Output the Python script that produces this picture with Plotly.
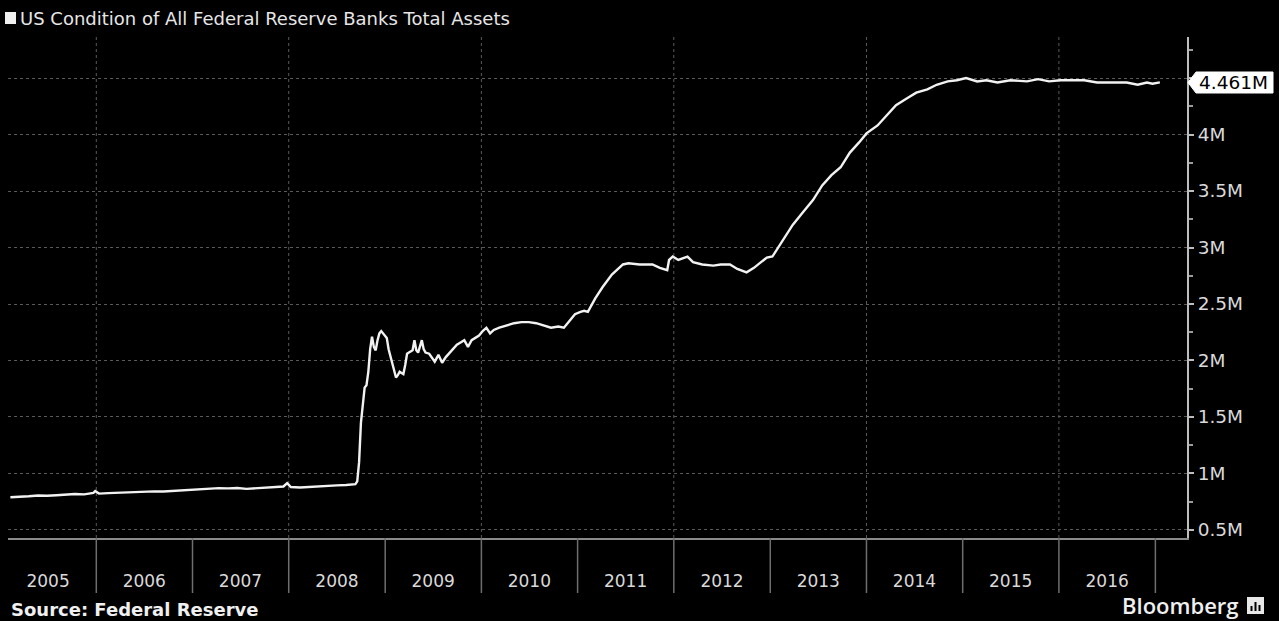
import plotly.graph_objects as go

# ---------------- data (values in millions, "M") ----------------
dates = [
    "2005-02-09", "2005-03-16", "2005-04-20", "2005-05-25", "2005-06-29", "2005-08-03",
    "2005-09-07", "2005-10-12", "2005-11-16", "2005-12-21", "2005-12-28", "2006-01-11",
    "2006-02-15", "2006-03-22", "2006-04-26", "2006-05-31", "2006-07-05", "2006-08-09",
    "2006-09-13", "2006-10-18", "2006-11-22", "2006-12-27", "2007-01-31", "2007-03-07",
    "2007-04-11", "2007-05-16", "2007-06-20", "2007-07-25", "2007-08-29", "2007-10-03",
    "2007-11-07", "2007-12-12", "2007-12-26", "2008-01-09", "2008-02-13", "2008-03-19",
    "2008-04-23", "2008-05-28", "2008-07-02", "2008-08-06", "2008-09-10", "2008-09-17",
    "2008-09-24", "2008-10-01", "2008-10-08", "2008-10-15", "2008-10-22", "2008-10-29",
    "2008-11-05", "2008-11-12", "2008-11-19", "2008-11-26", "2008-12-03", "2008-12-10",
    "2008-12-17", "2008-12-24", "2008-12-31", "2009-01-07", "2009-01-14", "2009-01-21",
    "2009-01-28", "2009-02-04", "2009-02-11", "2009-02-18", "2009-02-25", "2009-03-04",
    "2009-03-11", "2009-03-18", "2009-03-25", "2009-04-01", "2009-04-08", "2009-04-15",
    "2009-04-22", "2009-04-29", "2009-05-06", "2009-05-13", "2009-05-20", "2009-05-27",
    "2009-06-03", "2009-06-17", "2009-06-24", "2009-07-08", "2009-07-22", "2009-08-05",
    "2009-08-19", "2009-09-02", "2009-09-16", "2009-09-30", "2009-10-14", "2009-10-28",
    "2009-11-11", "2009-11-25", "2009-12-09", "2009-12-23", "2010-01-06", "2010-01-20",
    "2010-02-03", "2010-02-17", "2010-03-10", "2010-04-07", "2010-05-05", "2010-06-02",
    "2010-06-30", "2010-07-28", "2010-08-25", "2010-09-22", "2010-10-20", "2010-11-10",
    "2010-12-01", "2010-12-22", "2011-01-12", "2011-01-26", "2011-02-09", "2011-03-09",
    "2011-04-06", "2011-05-11", "2011-06-22", "2011-07-13", "2011-08-24", "2011-10-12",
    "2011-11-09", "2011-12-07", "2011-12-14", "2011-12-28", "2012-01-18", "2012-02-22",
    "2012-03-14", "2012-04-18", "2012-05-30", "2012-06-27", "2012-08-01", "2012-08-29",
    "2012-10-03", "2012-10-31", "2012-11-21", "2012-12-19", "2013-01-09", "2013-02-20",
    "2013-03-27", "2013-05-01", "2013-06-12", "2013-07-17", "2013-08-21", "2013-09-25",
    "2013-10-30", "2013-12-04", "2014-01-01", "2014-02-12", "2014-03-19", "2014-04-23",
    "2014-06-04", "2014-07-09", "2014-08-20", "2014-09-24", "2014-11-05", "2014-12-10",
    "2015-01-14", "2015-02-25", "2015-04-01", "2015-05-13", "2015-07-01", "2015-09-02",
    "2015-10-14", "2015-11-25", "2016-01-06", "2016-02-24", "2016-04-06", "2016-05-25",
    "2016-07-06", "2016-08-10", "2016-09-14", "2016-10-26", "2016-11-30", "2016-12-21",
    "2017-01-18",
]
total_assets = [
    0.790, 0.792, 0.798, 0.805, 0.803, 0.808,
    0.812, 0.818, 0.815, 0.828, 0.845, 0.822,
    0.826, 0.830, 0.836, 0.838, 0.840, 0.842,
    0.840, 0.845, 0.850, 0.858, 0.862, 0.866,
    0.870, 0.868, 0.872, 0.864, 0.870, 0.872,
    0.880, 0.885, 0.915, 0.880, 0.876, 0.882,
    0.888, 0.890, 0.895, 0.898, 0.905, 0.930,
    1.10, 1.45, 1.62, 1.76, 1.78, 1.90,
    2.10, 2.21, 2.12, 2.09, 2.18, 2.24,
    2.26, 2.24, 2.22, 2.20, 2.10, 2.04,
    1.98, 1.92, 1.85, 1.87, 1.90, 1.89,
    1.88, 1.96, 2.06, 2.07, 2.08, 2.09,
    2.18, 2.09, 2.07, 2.12, 2.18, 2.10,
    2.07, 2.06, 2.04, 1.99, 2.05, 1.98,
    2.03, 2.07, 2.10, 2.14, 2.16, 2.18,
    2.12, 2.18, 2.20, 2.22, 2.26, 2.29,
    2.24, 2.27, 2.29, 2.31, 2.33, 2.34,
    2.34, 2.33, 2.31, 2.29, 2.30, 2.29,
    2.35, 2.41, 2.43, 2.44, 2.43, 2.55,
    2.65, 2.76, 2.85, 2.86, 2.85, 2.85,
    2.82, 2.80, 2.89, 2.92, 2.89, 2.92,
    2.87, 2.85, 2.84, 2.85, 2.85, 2.81,
    2.78, 2.82, 2.86, 2.91, 2.92, 3.07,
    3.20, 3.30, 3.42, 3.55, 3.64, 3.71,
    3.84, 3.93, 4.01, 4.08, 4.17, 4.26,
    4.32, 4.37, 4.40, 4.44, 4.47, 4.48,
    4.50, 4.47, 4.48, 4.46, 4.48, 4.47,
    4.49, 4.47, 4.48, 4.48, 4.48, 4.46,
    4.46, 4.46, 4.46, 4.44, 4.46, 4.45,
    4.461,
]
years = [str(y) for y in range(2005, 2017)]
ytick_vals = [0.5, 1.0, 1.5, 2.0, 2.5, 3.0, 3.5, 4.0, 4.5]
ytick_text = ["0.5M", "1M", "1.5M", "2M", "2.5M", "3M", "3.5M", "4M", ""]
last_label = "4.461M"
title_text = "US Condition of All Federal Reserve Banks Total Assets"
source_text = "Source: Federal Reserve"

# ---------------- layout geometry (pixels) ----------------
W, H = 1279, 621
ML, MR, MT, MB = 8, 92, 37, 83
PW, PH = W - ML - MR, H - MT - MB


def px(x):
    return (x - ML) / PW


def py(y):
    return (H - MB - y) / PH


FONT = "DejaVu Sans"
LBL = "#d9d9d9"

fig = go.Figure()
fig.add_trace(go.Scatter(
    x=dates, y=total_assets, mode="lines",
    line=dict(color="#f2f2f2", width=2.4),
    hoverinfo="skip", showlegend=False,
))

shapes = []
# vertical dotted grid every two years
for yr in range(2006, 2017, 2):
    shapes.append(dict(type="line", xref="x", yref="paper",
                       x0=f"{yr}-01-01", x1=f"{yr}-01-01", y0=0, y1=1,
                       line=dict(color="#5a5a5a", width=1, dash="dot"),
                       layer="below"))
# year separators below the axis
for yr in range(2006, 2018):
    shapes.append(dict(type="line", xref="x", yref="paper",
                       x0=f"{yr}-01-01", x1=f"{yr}-01-01",
                       y0=0, y1=py(593),
                       line=dict(color="#6e6e6e", width=1.5)))
# last-value tag
tag_path = (f"M {px(1188)},{py(82.5)} L {px(1196)},{py(72)} L {px(1273)},{py(72)} "
            f"L {px(1273)},{py(93)} L {px(1196)},{py(93)} Z")
shapes.append(dict(type="path", xref="paper", yref="paper", path=tag_path,
                   fillcolor="white", line=dict(color="white", width=1)))
# title square
shapes.append(dict(type="rect", xref="paper", yref="paper",
                   x0=px(5), x1=px(16), y0=py(24), y1=py(12),
                   fillcolor="#f0f0f0", line=dict(width=0)))
# Bloomberg icon
shapes.append(dict(type="rect", xref="paper", yref="paper",
                   x0=px(1247), x1=px(1264), y0=py(614), y1=py(597),
                   fillcolor="#e8e8e8", line=dict(width=0)))
for bx, top in [(1250.5, 606), (1254.5, 602), (1258.5, 605)]:
    shapes.append(dict(type="rect", xref="paper", yref="paper",
                       x0=px(bx), x1=px(bx + 2), y0=py(611), y1=py(top),
                       fillcolor="black", line=dict(width=0)))

annotations = [
    dict(text=title_text, xref="paper", yref="paper", x=px(18), y=py(18),
         xanchor="left", yanchor="middle", showarrow=False,
         font=dict(family=FONT, size=18, color="#e6e6e6")),
    dict(text=source_text, xref="paper", yref="paper", x=px(9), y=py(609),
         xanchor="left", yanchor="middle", showarrow=False,
         font=dict(family=FONT, size=18, color="#f0f0f0", weight="bold")),
    dict(text="Bloomberg", xref="paper", yref="paper", x=px(1241), y=py(605),
         xanchor="right", yanchor="middle", showarrow=False,
         font=dict(family="Open Sans", size=22, color="#f0f0f0", weight=600)),
    dict(text=last_label, xref="paper", yref="paper", x=px(1233), y=py(82.5),
         xanchor="center", yanchor="middle", showarrow=False,
         font=dict(family=FONT, size=18.5, color="black")),
]

fig.update_layout(
    width=W, height=H,
    margin=dict(l=ML, r=MR, t=MT, b=MB, pad=0),
    paper_bgcolor="black", plot_bgcolor="black",
    showlegend=False,
    shapes=shapes, annotations=annotations,
    xaxis=dict(
        type="date", range=["2005-01-31", "2017-05-01"],
        tickvals=[f"{y}-07-02" for y in years], ticktext=years,
        ticks="", showgrid=False, zeroline=False,
        showline=True, linecolor="#8a8a8a", linewidth=2,
        tickfont=dict(family=FONT, size=17, color=LBL),
        ticklabelstandoff=27,
    ),
    yaxis=dict(
        side="right", range=[0.429, 4.863],
        tickvals=ytick_vals, ticktext=ytick_text,
        ticks="outside", ticklen=5, tickwidth=1.5, tickcolor="#bdbdbd",
        showline=True, linecolor="#bdbdbd", linewidth=2,
        showgrid=True, gridcolor="#5a5a5a", griddash="dot", gridwidth=1,
        zeroline=False,
        tickfont=dict(family=FONT, size=18.5, color=LBL),
        minor=dict(dtick=0.25, tick0=0.25, ticks="outside", ticklen=4,
                   tickcolor="#9a9a9a", showgrid=False),
    ),
)

fig.write_html("out.html")
